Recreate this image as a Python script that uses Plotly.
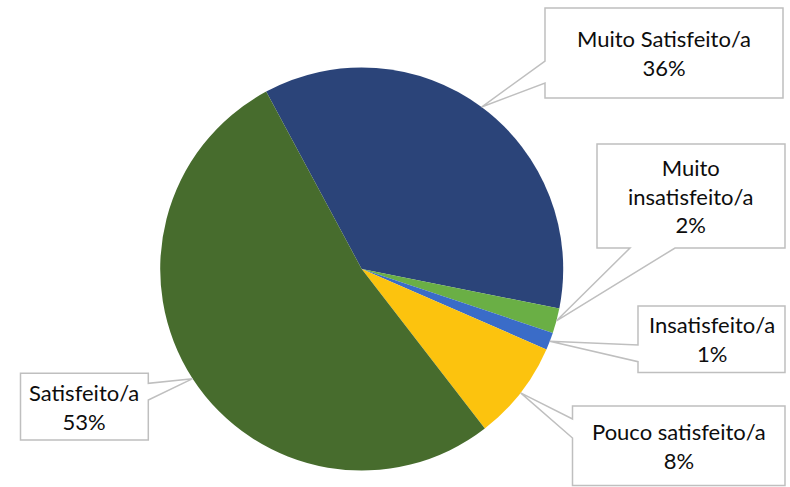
import math
import plotly.graph_objects as go

# ---- data ----
labels = ["Muito Satisfeito/a", "Muito insatisfeito/a", "Insatisfeito/a",
          "Pouco satisfeito/a", "Satisfeito/a"]
label_text = ["Muito Satisfeito/a", "Muito<br>insatisfeito/a", "Insatisfeito/a",
              "Pouco satisfeito/a", "Satisfeito/a"]
values = [36.0, 2.0, 1.4, 8.0, 52.6]
colors = ["#2B4479", "#6AAF45", "#3A6CC8", "#FCC30E", "#476C2D"]

# ---- layout constants (pixels) ----
W, H = 790, 487
CX, CY, R = 361.7, 269.0, 201.5
ROTATION = -28.3

# callout boxes: (x0, y0, x1, y1), side of tail, tail base span
callouts = [
    dict(box=(545, 8, 783, 98), side="left", base=(61, 83)),
    dict(box=(597, 144, 785, 248), side="bottom", base=(630, 675)),
    dict(box=(638, 306, 785, 372.5), side="left", base=(345, 361.7)),
    dict(box=(572.5, 406, 785, 485.5), side="left", base=(419, 438)),
    dict(box=(20.5, 373.3, 148.3, 440), side="right", base=(383.3, 400)),
]

FONT = "Lato"
FONT_SIZE = 22
BORDER = "#BFBFBF"


def px(x):
    return x / W


def py(y):
    return 1 - y / H


fig = go.Figure()
fig.add_trace(go.Pie(
    labels=labels,
    values=values,
    sort=False,
    direction="clockwise",
    rotation=ROTATION,
    marker=dict(colors=colors, line=dict(width=0)),
    textinfo="none",
    hoverinfo="label+percent",
    showlegend=False,
    domain=dict(x=[px(CX - R), px(CX + R)], y=[py(CY + R), py(CY - R)]),
))

total = sum(values)
cum = 0.0
shapes = []
annotations = []
for lab, v, c in zip(label_text, values, callouts):
    theta = math.radians(ROTATION + (cum + v / 2) / total * 360)
    cum += v
    tx = CX + R * math.sin(theta)
    ty = CY - R * math.cos(theta)
    x0, y0, x1, y1 = c["box"]
    b0, b1 = c["base"]
    pts = [(x0, y0), (x1, y0)]
    if c["side"] == "right":
        pts += [(x1, b0), (tx, ty), (x1, b1)]
    pts += [(x1, y1)]
    if c["side"] == "bottom":
        pts += [(b1, y1), (tx, ty), (b0, y1)]
    pts += [(x0, y1)]
    if c["side"] == "left":
        pts += [(x0, b1), (tx, ty), (x0, b0)]
    path = "M " + " L ".join(f"{px(a):.5f},{py(b):.5f}" for a, b in pts) + " Z"
    shapes.append(dict(type="path", xref="paper", yref="paper", path=path,
                       fillcolor="white", line=dict(color=BORDER, width=1.5)))
    pct = f"{round(v / total * 100):d}%"
    annotations.append(dict(
        x=px((x0 + x1) / 2), y=py((y0 + y1) / 2), xref="paper", yref="paper",
        xanchor="center", yanchor="middle", showarrow=False, align="center",
        text=f"{lab}<br>{pct}",
        font=dict(family=FONT, size=FONT_SIZE, color="#0D0D0D"),
    ))

fig.update_layout(
    width=W, height=H,
    margin=dict(l=0, r=0, t=0, b=0),
    paper_bgcolor="white", plot_bgcolor="white",
    shapes=shapes, annotations=annotations,
    showlegend=False,
)

fig.write_html("out.html",
               config={"displayModeBar": False},
               post_script="document.body.style.margin='0';"
                           "document.body.style.overflow='hidden';")
